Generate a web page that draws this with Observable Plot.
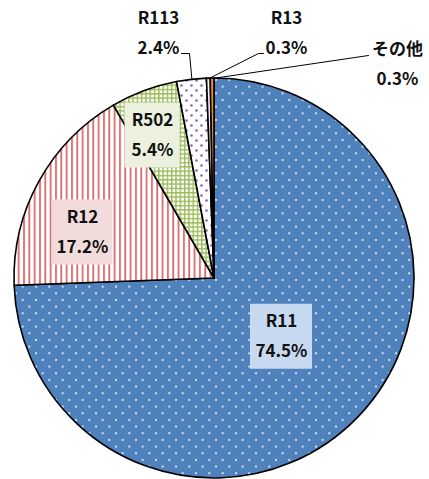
<!DOCTYPE html>
<html><head><meta charset="utf-8">
<script src="https://cdn.jsdelivr.net/npm/d3@7"></script>
<script src="https://cdn.jsdelivr.net/npm/@observablehq/plot@0.6"></script>
<style>body{margin:0;background:#fff}</style>
</head><body><div id="chart"></div>
<script>
// ---- data ----
const categories = ["R11", "R12", "R502", "R113", "R13", "その他"];
const shares = [74.5, 17.2, 5.4, 2.4, 0.3, 0.3];
const shareLabels = ["74.5%", "17.2%", "5.4%", "2.4%", "0.3%", "0.3%"];

// ---- styles / layout (pixel layout relative to the pie centre) ----
const W = 429, H = 479, CX = 214, CY = 278, RADIUS = 200;
const sliceFill = ["url(#pBlue)", "url(#pRed)", "url(#pGreen)", "url(#pPurple)", "#f4f4f4", "#f0873a"];
const labelX   = [281, 82, 152, 158, 286, 397];
const nameY    = [321, 217, 120, 18.5, 18, 49];
const pctY     = [351.5, 247, 150, 48.5, 48, 79.5];
const boxW     = [62, 61, 55, 0, 0, 0];
const boxFill  = ["#c6d9f1", "#f2dcdb", "#ebf1de", "none", "none", "none"];
const leaderStart = {R113: [[181, 53], [189, 53]], R13: [[263, 53], [258, 53]], "その他": [[368, 55]]};
const FONT = "'Noto Sans CJK JP', 'Noto Sans', sans-serif";

const toX = px => px - CX, toY = py => CY - py;
const arcs = d3.pie().sort(null).value(d => d)(shares);

const labels = categories.map((c, i) => ({
  name: c, pct: shareLabels[i],
  x: toX(labelX[i]), yName: toY(nameY[i]), yPct: toY(pctY[i]),
  x1: toX(labelX[i] - boxW[i] / 2), x2: toX(labelX[i] + boxW[i] / 2),
  y1: toY((nameY[i] + pctY[i]) / 2 - 32.5), y2: toY((nameY[i] + pctY[i]) / 2 + 32.5),
  box: boxFill[i]
}));

const leaders = [];
categories.forEach((c, i) => {
  if (!leaderStart[c]) return;
  const a = (arcs[i].startAngle + arcs[i].endAngle) / 2;
  leaderStart[c].forEach(([px, py]) => leaders.push({name: c, x: toX(px), y: toY(py)}));
  leaders.push({name: c, x: RADIUS * Math.sin(a), y: RADIUS * Math.cos(a)});
});

function pieMark(index, scales) {
  const cx = scales.x(0), cy = scales.y(0), R = scales.x(RADIUS) - scales.x(0);
  const g = d3.create("svg:g");
  const defs = g.append("defs");
  const pb = defs.append("pattern").attr("id", "pBlue").attr("patternUnits", "userSpaceOnUse")
    .attr("width", 13.33).attr("height", 13.33);
  pb.append("rect").attr("width", 13.33).attr("height", 13.33).attr("fill", "#4f81bd");
  pb.append("circle").attr("cx", 2).attr("cy", 2).attr("r", 1).attr("fill", "#fff");
  pb.append("circle").attr("cx", 8.67).attr("cy", 8.67).attr("r", 1).attr("fill", "#fff");
  const pr = defs.append("pattern").attr("id", "pRed").attr("patternUnits", "userSpaceOnUse")
    .attr("width", 5.33).attr("height", 10);
  pr.append("rect").attr("width", 5.33).attr("height", 10).attr("fill", "#fff");
  pr.append("rect").attr("x", 1).attr("width", 1.8).attr("height", 10).attr("fill", "#d9696b");
  const pg = defs.append("pattern").attr("id", "pGreen").attr("patternUnits", "userSpaceOnUse")
    .attr("width", 4.3).attr("height", 4.3);
  pg.append("rect").attr("width", 4.3).attr("height", 4.3).attr("fill", "#fff");
  pg.append("rect").attr("width", 1.4).attr("height", 4.3).attr("fill", "#9bbb59");
  pg.append("rect").attr("width", 4.3).attr("height", 1.4).attr("fill", "#9bbb59");
  const pp = defs.append("pattern").attr("id", "pPurple").attr("patternUnits", "userSpaceOnUse")
    .attr("width", 10).attr("height", 10);
  pp.append("rect").attr("width", 10).attr("height", 10).attr("fill", "#fff");
  pp.append("circle").attr("cx", 2.5).attr("cy", 2.5).attr("r", 1.3).attr("fill", "#8b5fc4");
  pp.append("circle").attr("cx", 7.5).attr("cy", 7.5).attr("r", 1.3).attr("fill", "#8b5fc4");
  const arc = d3.arc().innerRadius(0).outerRadius(R);
  g.append("g").attr("transform", `translate(${cx},${cy})`)
    .selectAll("path").data(arcs).join("path")
    .attr("d", arc).attr("fill", (d, i) => sliceFill[i])
    .attr("stroke", "#000").attr("stroke-width", 1.6).attr("stroke-linejoin", "round");
  return g.node();
}

const chart = Plot.plot({
  width: W, height: H, margin: 0,
  x: {domain: [-CX, W - CX], axis: null},
  y: {domain: [CY - H, CY], axis: null},
  style: {fontFamily: FONT, background: "#fff"},
  marks: [
    pieMark,
    Plot.rect(labels.filter(d => d.box !== "none"), {x1: "x1", x2: "x2", y1: "y1", y2: "y2", fill: "box"}),
    Plot.line(leaders, {x: "x", y: "y", z: "name", stroke: "#000", strokeWidth: 1, curve: "linear"}),
    Plot.text(labels, {x: "x", y: "yName", text: "name", fontSize: 17, fontWeight: "bold", fill: "#111", fontFamily: FONT}),
    Plot.text(labels, {x: "x", y: "yPct", text: "pct", fontSize: 17, fontWeight: "bold", fill: "#111", fontFamily: FONT})
  ]
});
document.getElementById("chart").appendChild(chart);
</script>
</body></html>
